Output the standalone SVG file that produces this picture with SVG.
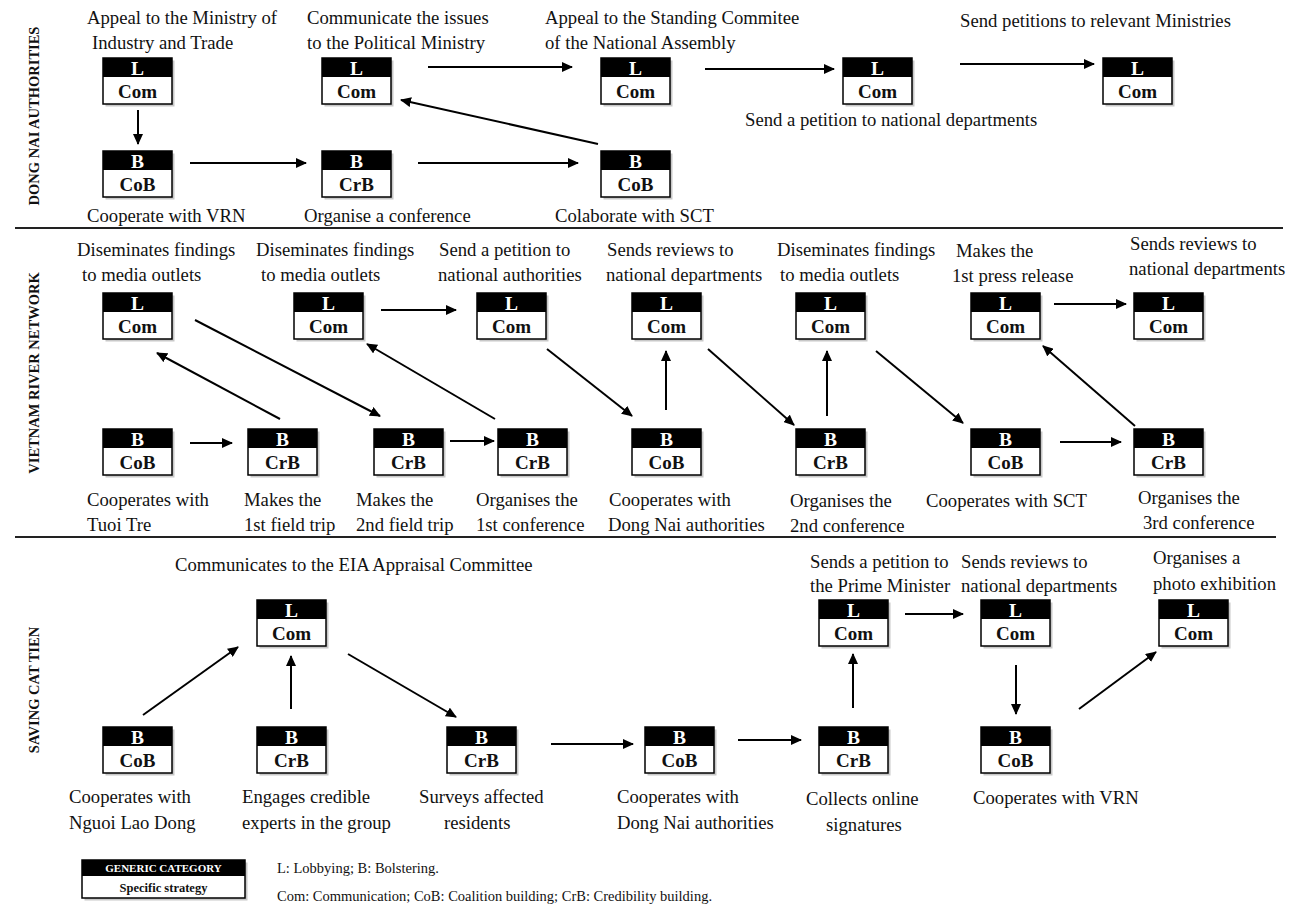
<svg xmlns="http://www.w3.org/2000/svg" xmlns:xlink="http://www.w3.org/1999/xlink" width="1293" height="911" viewBox="0 0 1293 911">
  <style>
    text { font-family: "Liberation Serif", "Times New Roman", serif; fill: #111; }
    .lbl { font-size: 18.7px; }
    .row { font-size: 14.5px; font-weight: bold; text-anchor: middle; }
    .cat { font-size: 19.5px; font-weight: bold; fill: #fff; text-anchor: middle; }
    .str { font-size: 19px; font-weight: bold; text-anchor: middle; }
    .hd { fill: #000; }
    .bd { fill: #fff; stroke: #000; stroke-width: 1.5; }
    .sh { fill: #9a9a9a; opacity: 0.55; }
    .ln { stroke: #000; stroke-width: 2; fill: none; marker-end: url(#ah); }
    .div { stroke: #222; stroke-width: 2; }
    .leg { font-size: 14.5px; }
  </style>
  <defs>
    <marker id="ah" markerUnits="userSpaceOnUse" markerWidth="11" markerHeight="10" refX="10" refY="5" orient="auto">
      <path d="M0,0 L11,5 L0,10 z" fill="#000"/>
    </marker>
    <!-- strategy box: header band over a white body, with a soft drop shadow -->
    <g id="box">
      <rect class="sh" x="2.5" y="2.5" width="69" height="46"/>
      <rect class="bd" x="0" y="0" width="69" height="46"/>
      <rect class="hd" x="0" y="0" width="69" height="19"/>
    </g>
  </defs>

  <rect width="1293" height="911" fill="#fff"/>

  <!-- section dividers -->
  <line class="div" x1="15" y1="228" x2="1283" y2="228"/>
  <line class="div" x1="15" y1="537" x2="1276" y2="537"/>

  <!-- section titles -->
  <text class="row" transform="translate(39,116) rotate(-90)">DONG NAI AUTHORITIES</text>
  <text class="row" transform="translate(39,373) rotate(-90)">VIETNAM RIVER NETWORK</text>
  <text class="row" transform="translate(39,690) rotate(-90)">SAVING CAT TIEN</text>

  <!-- ===== Dong Nai authorities ===== -->
  <g id="dn1" transform="translate(103,58)">
    <use xlink:href="#box"/><text class="cat" x="34.5" y="16.5">L</text><text class="str" x="34.5" y="39.5">Com</text>
  </g>
  <text class="lbl" x="87" y="24">Appeal to the Ministry of</text>
  <text class="lbl" x="92" y="49">Industry and Trade</text>

  <g id="dn2" transform="translate(322,58)">
    <use xlink:href="#box"/><text class="cat" x="34.5" y="16.5">L</text><text class="str" x="34.5" y="39.5">Com</text>
  </g>
  <text class="lbl" x="307" y="24">Communicate the issues</text>
  <text class="lbl" x="307" y="49">to the Political Ministry</text>

  <g id="dn3" transform="translate(601,58)">
    <use xlink:href="#box"/><text class="cat" x="34.5" y="16.5">L</text><text class="str" x="34.5" y="39.5">Com</text>
  </g>
  <text class="lbl" x="545" y="24">Appeal to the Standing Commitee</text>
  <text class="lbl" x="545" y="49">of the National Assembly</text>

  <g id="dn4" transform="translate(843,58)">
    <use xlink:href="#box"/><text class="cat" x="34.5" y="16.5">L</text><text class="str" x="34.5" y="39.5">Com</text>
  </g>
  <text class="lbl" x="745" y="126">Send a petition to national departments</text>

  <g id="dn5" transform="translate(1103,58)">
    <use xlink:href="#box"/><text class="cat" x="34.5" y="16.5">L</text><text class="str" x="34.5" y="39.5">Com</text>
  </g>
  <text class="lbl" x="960" y="27">Send petitions to relevant Ministries</text>

  <g id="dn6" transform="translate(103,151)">
    <use xlink:href="#box"/><text class="cat" x="34.5" y="16.5">B</text><text class="str" x="34.5" y="39.5">CoB</text>
  </g>
  <text class="lbl" x="87" y="222">Cooperate with VRN</text>

  <g id="dn7" transform="translate(322,151)">
    <use xlink:href="#box"/><text class="cat" x="34.5" y="16.5">B</text><text class="str" x="34.5" y="39.5">CrB</text>
  </g>
  <text class="lbl" x="304" y="222">Organise a conference</text>

  <g id="dn8" transform="translate(601,151)">
    <use xlink:href="#box"/><text class="cat" x="34.5" y="16.5">B</text><text class="str" x="34.5" y="39.5">CoB</text>
  </g>
  <text class="lbl" x="555" y="222">Colaborate with SCT</text>

  <!-- ===== Vietnam River Network ===== -->
  <g id="vr1" transform="translate(103,293)">
    <use xlink:href="#box"/><text class="cat" x="34.5" y="16.5">L</text><text class="str" x="34.5" y="39.5">Com</text>
  </g>
  <text class="lbl" x="77" y="256">Diseminates findings</text>
  <text class="lbl" x="82" y="281">to media outlets</text>

  <g id="vr2" transform="translate(294,293)">
    <use xlink:href="#box"/><text class="cat" x="34.5" y="16.5">L</text><text class="str" x="34.5" y="39.5">Com</text>
  </g>
  <text class="lbl" x="256" y="256">Diseminates findings</text>
  <text class="lbl" x="261" y="281">to media outlets</text>

  <g id="vr3" transform="translate(477,293)">
    <use xlink:href="#box"/><text class="cat" x="34.5" y="16.5">L</text><text class="str" x="34.5" y="39.5">Com</text>
  </g>
  <text class="lbl" x="439" y="256">Send a petition to</text>
  <text class="lbl" x="438" y="281">national authorities</text>

  <g id="vr4" transform="translate(632,293)">
    <use xlink:href="#box"/><text class="cat" x="34.5" y="16.5">L</text><text class="str" x="34.5" y="39.5">Com</text>
  </g>
  <text class="lbl" x="607" y="256">Sends reviews to</text>
  <text class="lbl" x="606" y="281">national departments</text>

  <g id="vr5" transform="translate(796,293)">
    <use xlink:href="#box"/><text class="cat" x="34.5" y="16.5">L</text><text class="str" x="34.5" y="39.5">Com</text>
  </g>
  <text class="lbl" x="777" y="256">Diseminates findings</text>
  <text class="lbl" x="780" y="281">to media outlets</text>

  <g id="vr6" transform="translate(971,293)">
    <use xlink:href="#box"/><text class="cat" x="34.5" y="16.5">L</text><text class="str" x="34.5" y="39.5">Com</text>
  </g>
  <text class="lbl" x="956" y="257">Makes the</text>
  <text class="lbl" x="952" y="282">1st press release</text>

  <g id="vr7" transform="translate(1134,293)">
    <use xlink:href="#box"/><text class="cat" x="34.5" y="16.5">L</text><text class="str" x="34.5" y="39.5">Com</text>
  </g>
  <text class="lbl" x="1130" y="250">Sends reviews to</text>
  <text class="lbl" x="1129" y="275">national departments</text>

  <g id="vr8" transform="translate(103,429)">
    <use xlink:href="#box"/><text class="cat" x="34.5" y="16.5">B</text><text class="str" x="34.5" y="39.5">CoB</text>
  </g>
  <text class="lbl" x="87" y="506">Cooperates with</text>
  <text class="lbl" x="87" y="531">Tuoi Tre</text>

  <g id="vr9" transform="translate(248,429)">
    <use xlink:href="#box"/><text class="cat" x="34.5" y="16.5">B</text><text class="str" x="34.5" y="39.5">CrB</text>
  </g>
  <text class="lbl" x="244" y="506">Makes the</text>
  <text class="lbl" x="244" y="531">1st field trip</text>

  <g id="vr10" transform="translate(374,429)">
    <use xlink:href="#box"/><text class="cat" x="34.5" y="16.5">B</text><text class="str" x="34.5" y="39.5">CrB</text>
  </g>
  <text class="lbl" x="356" y="506">Makes the</text>
  <text class="lbl" x="356" y="531">2nd field trip</text>

  <g id="vr11" transform="translate(498,429)">
    <use xlink:href="#box"/><text class="cat" x="34.5" y="16.5">B</text><text class="str" x="34.5" y="39.5">CrB</text>
  </g>
  <text class="lbl" x="476" y="506">Organises the</text>
  <text class="lbl" x="476" y="531">1st conference</text>

  <g id="vr12" transform="translate(632,429)">
    <use xlink:href="#box"/><text class="cat" x="34.5" y="16.5">B</text><text class="str" x="34.5" y="39.5">CoB</text>
  </g>
  <text class="lbl" x="609" y="506">Cooperates with</text>
  <text class="lbl" x="608" y="531">Dong Nai authorities</text>

  <g id="vr13" transform="translate(796,429)">
    <use xlink:href="#box"/><text class="cat" x="34.5" y="16.5">B</text><text class="str" x="34.5" y="39.5">CrB</text>
  </g>
  <text class="lbl" x="790" y="507">Organises the</text>
  <text class="lbl" x="790" y="532">2nd conference</text>

  <g id="vr14" transform="translate(971,429)">
    <use xlink:href="#box"/><text class="cat" x="34.5" y="16.5">B</text><text class="str" x="34.5" y="39.5">CoB</text>
  </g>
  <text class="lbl" x="926" y="507">Cooperates with SCT</text>

  <g id="vr15" transform="translate(1134,429)">
    <use xlink:href="#box"/><text class="cat" x="34.5" y="16.5">B</text><text class="str" x="34.5" y="39.5">CrB</text>
  </g>
  <text class="lbl" x="1138" y="504">Organises the</text>
  <text class="lbl" x="1143" y="529">3rd conference</text>

  <!-- ===== Saving Cat Tien ===== -->
  <g id="sc1" transform="translate(257,600)">
    <use xlink:href="#box"/><text class="cat" x="34.5" y="16.5">L</text><text class="str" x="34.5" y="39.5">Com</text>
  </g>
  <text class="lbl" x="175" y="571">Communicates to the EIA Appraisal Committee</text>

  <g id="sc2" transform="translate(103,727)">
    <use xlink:href="#box"/><text class="cat" x="34.5" y="16.5">B</text><text class="str" x="34.5" y="39.5">CoB</text>
  </g>
  <text class="lbl" x="69" y="803">Cooperates with</text>
  <text class="lbl" x="69" y="829">Nguoi Lao Dong</text>

  <g id="sc3" transform="translate(257,727)">
    <use xlink:href="#box"/><text class="cat" x="34.5" y="16.5">B</text><text class="str" x="34.5" y="39.5">CrB</text>
  </g>
  <text class="lbl" x="242" y="803">Engages credible</text>
  <text class="lbl" x="242" y="829">experts in the group</text>

  <g id="sc4" transform="translate(447,727)">
    <use xlink:href="#box"/><text class="cat" x="34.5" y="16.5">B</text><text class="str" x="34.5" y="39.5">CrB</text>
  </g>
  <text class="lbl" x="419" y="803">Surveys affected</text>
  <text class="lbl" x="444" y="829">residents</text>

  <g id="sc5" transform="translate(645,727)">
    <use xlink:href="#box"/><text class="cat" x="34.5" y="16.5">B</text><text class="str" x="34.5" y="39.5">CoB</text>
  </g>
  <text class="lbl" x="617" y="803">Cooperates with</text>
  <text class="lbl" x="617" y="829">Dong Nai authorities</text>

  <g id="sc6" transform="translate(819,727)">
    <use xlink:href="#box"/><text class="cat" x="34.5" y="16.5">B</text><text class="str" x="34.5" y="39.5">CrB</text>
  </g>
  <text class="lbl" x="806" y="805">Collects online</text>
  <text class="lbl" x="826" y="831">signatures</text>

  <g id="sc7" transform="translate(819,600)">
    <use xlink:href="#box"/><text class="cat" x="34.5" y="16.5">L</text><text class="str" x="34.5" y="39.5">Com</text>
  </g>
  <text class="lbl" x="810" y="568">Sends a petition to</text>
  <text class="lbl" x="810" y="592">the Prime Minister</text>

  <g id="sc8" transform="translate(981,600)">
    <use xlink:href="#box"/><text class="cat" x="34.5" y="16.5">L</text><text class="str" x="34.5" y="39.5">Com</text>
  </g>
  <text class="lbl" x="961" y="568">Sends reviews to</text>
  <text class="lbl" x="961" y="592">national departments</text>

  <g id="sc9" transform="translate(981,727)">
    <use xlink:href="#box"/><text class="cat" x="34.5" y="16.5">B</text><text class="str" x="34.5" y="39.5">CoB</text>
  </g>
  <text class="lbl" x="973" y="804">Cooperates with VRN</text>

  <g id="sc10" transform="translate(1159,600)">
    <use xlink:href="#box"/><text class="cat" x="34.5" y="16.5">L</text><text class="str" x="34.5" y="39.5">Com</text>
  </g>
  <text class="lbl" x="1153" y="564">Organises a</text>
  <text class="lbl" x="1153" y="590">photo exhibition</text>

  <!-- connectors -->
  <g id="connectors">
    <!-- Dong Nai authorities -->
    <line class="ln" x1="138" y1="110" x2="138" y2="144"/>
    <line class="ln" x1="190" y1="163" x2="306" y2="163"/>
    <line class="ln" x1="418" y1="163" x2="578" y2="163"/>
    <line class="ln" x1="598" y1="144" x2="401" y2="100"/>
    <line class="ln" x1="428" y1="67" x2="572" y2="67"/>
    <line class="ln" x1="705" y1="69" x2="834" y2="69"/>
    <line class="ln" x1="960" y1="64" x2="1094" y2="64"/>
    <!-- Vietnam River Network -->
    <line class="ln" x1="190" y1="443" x2="232" y2="443"/>
    <line class="ln" x1="280" y1="419" x2="157" y2="353"/>
    <line class="ln" x1="195" y1="320" x2="380" y2="416"/>
    <line class="ln" x1="450" y1="441" x2="494" y2="441"/>
    <line class="ln" x1="495" y1="419" x2="367" y2="344"/>
    <line class="ln" x1="381" y1="310" x2="456" y2="310"/>
    <line class="ln" x1="547" y1="349" x2="632" y2="416"/>
    <line class="ln" x1="666" y1="410" x2="666" y2="351"/>
    <line class="ln" x1="708" y1="349" x2="794" y2="425"/>
    <line class="ln" x1="827" y1="416" x2="827" y2="351"/>
    <line class="ln" x1="876" y1="351" x2="963" y2="423"/>
    <line class="ln" x1="1060" y1="442" x2="1121" y2="442"/>
    <line class="ln" x1="1135" y1="426" x2="1043" y2="346"/>
    <line class="ln" x1="1054" y1="304" x2="1126" y2="304"/>
    <!-- Saving Cat Tien -->
    <line class="ln" x1="143" y1="715" x2="238" y2="647"/>
    <line class="ln" x1="291" y1="709" x2="291" y2="656"/>
    <line class="ln" x1="348" y1="654" x2="456" y2="717"/>
    <line class="ln" x1="551" y1="744" x2="633" y2="744"/>
    <line class="ln" x1="738" y1="740" x2="801" y2="740"/>
    <line class="ln" x1="853" y1="708" x2="853" y2="654"/>
    <line class="ln" x1="905" y1="614" x2="963" y2="614"/>
    <line class="ln" x1="1016" y1="665" x2="1016" y2="714"/>
    <line class="ln" x1="1079" y1="709" x2="1156" y2="652"/>
  </g>

  <!-- key -->
  <g id="legend">
    <rect class="sh" x="84.5" y="862.5" width="163" height="38"/>
    <rect class="bd" x="82" y="860" width="163" height="38"/>
    <rect class="hd" x="82" y="860" width="163" height="16"/>
    <text x="163.5" y="872" style="font-size:11px;font-weight:bold;fill:#fff;text-anchor:middle">GENERIC CATEGORY</text>
    <text x="163.5" y="892" style="font-size:12.5px;font-weight:bold;text-anchor:middle">Specific strategy</text>
    <text class="leg" x="277" y="873">L: Lobbying; B: Bolstering.</text>
    <text class="leg" x="277" y="901">Com: Communication; CoB: Coalition building; CrB: Credibility building.</text>
  </g>
</svg>
